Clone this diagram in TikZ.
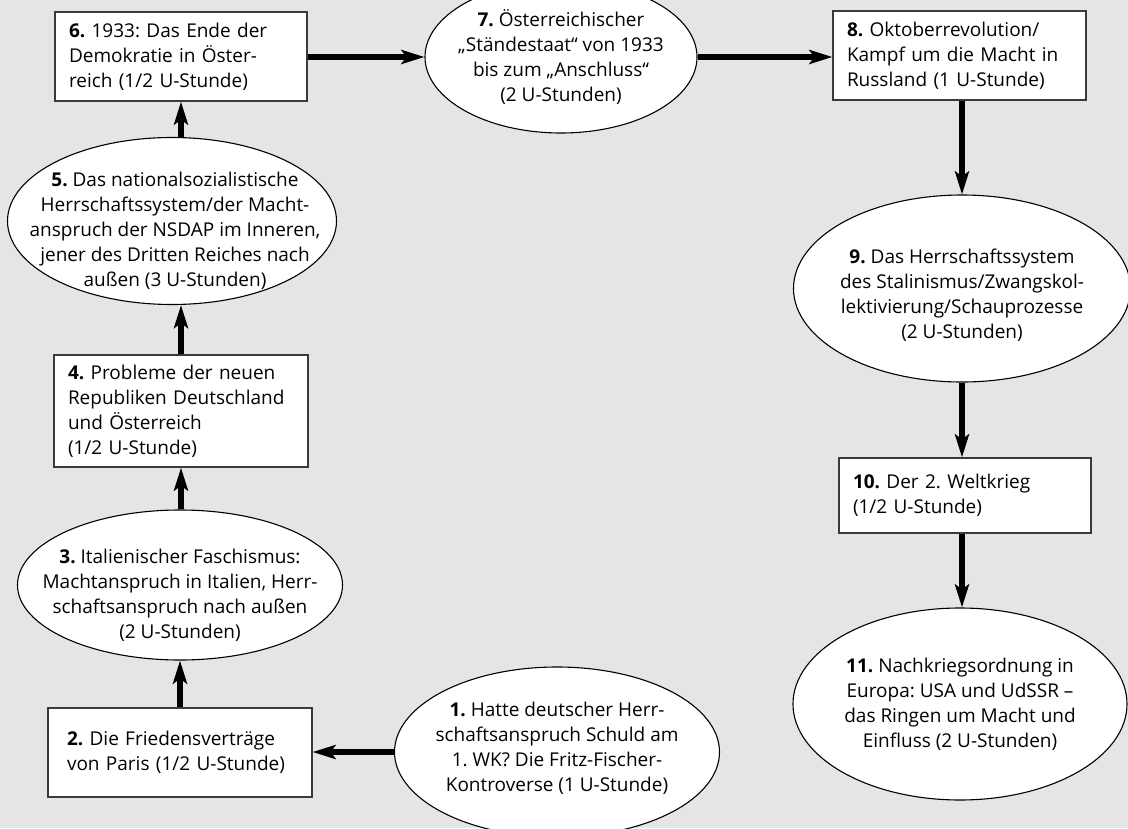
\documentclass[tikz,border=0pt]{standalone}
\usepackage{fontspec}
\setmainfont{Open Sans}
\usetikzlibrary{shapes.geometric,arrows.meta}
\definecolor{bgcol}{HTML}{E5E5E5}
\definecolor{boxline}{HTML}{3A3A3A}
\tikzset{
  stepbox/.style={draw=boxline, line width=1.2pt, fill=white, rectangle,
    align=left, inner xsep=14pt, inner ysep=0pt, font=\fontsize{19}{25}\selectfont},
  oval/.style={draw=black, line width=1.1pt, fill=white, ellipse, inner sep=0pt},
  ovaltext/.style={align=center, inner sep=0pt, font=\fontsize{19}{25}\selectfont},
  flow/.style={line width=5.5pt, -{Stealth[length=23pt,width=14pt,inset=5pt]}},
}
\begin{document}
\frenchspacing
\begin{tikzpicture}[x=1pt,y=-1pt]
\fill[bgcol] (0,0) rectangle (1128,828);
\useasboundingbox (0,0) rectangle (1128,828);

% boxes
\node[stepbox, text width=224pt, minimum height=89pt] (b6) at (181,56.5)
  {\textbf{6.} 1933: Das Ende der\\ Demokratie in Öster-\\ reich (1/2 U-Stunde)};
\node[stepbox, text width=225pt, minimum height=89pt] (b8) at (959.5,55.5)
  {\textbf{8.} Oktoberrevolution/\\ Kampf um die Macht in\\ Russland (1 U-Stunde)};
\node[stepbox, text width=226pt, minimum height=112pt] (b4) at (181,411)
  {\textbf{4.} Probleme der neuen\\ Republiken Deutschland\\ und Österreich\\ (1/2 U-Stunde)};
\node[stepbox, inner xsep=19pt, text width=226pt, minimum height=89pt] (b2) at (180,752.5)
  {\textbf{2.} Die Friedensverträge\\ von Paris (1/2 U-Stunde)};
\node[stepbox, text width=224pt, minimum height=75pt] (b10) at (965,495.5)
  {\textbf{10.} Der 2. Weltkrieg\\ (1/2 U-Stunde)\\[4pt]};

% ellipses
\node[oval, minimum width=272pt, minimum height=152pt] (e7) at (561,57) {};
\node[ovaltext] (t7) at (561,57)
  {\textbf{7.} Österreichischer\\ „Ständestaat“ von 1933\\ bis zum „Anschluss“\\ (2 U-Stunden)};
\node[oval, minimum width=329pt, minimum height=167pt] (e5) at (172,221) {};
\node[ovaltext] (t5) at (175,231)
  {\textbf{5.} Das nationalsozialistische\\ Herrschaftssystem/der Macht-\\ anspruch der NSDAP im Inneren,\\ jener des Dritten Reiches nach\\ außen (3 U-Stunden)};
\node[oval, minimum width=337pt, minimum height=187pt] (e9) at (962,288.5) {};
\node[ovaltext] (t9) at (962,295)
  {\textbf{9.} Das Herrschaftssystem\\ des Stalinismus/Zwangskol-\\ lektivierung/Schauprozesse\\ (2 U-Stunden)};
\node[oval, minimum width=325pt, minimum height=150pt] (e3) at (180,585) {};
\node[ovaltext] (t3) at (180,595)
  {\textbf{3.} Italienischer Faschismus:\\ Machtanspruch in Italien, Herr-\\ schaftsanspruch nach außen\\ (2 U-Stunden)};
\node[oval, minimum width=334pt, minimum height=192pt] (e11) at (960,704) {};
\node[ovaltext] (t11) at (960,704)
  {\textbf{11.} Nachkriegsordnung in\\ Europa: USA und UdSSR –\\ das Ringen um Macht und\\ Einfluss (2 U-Stunden)};
\node[oval, minimum width=325pt, minimum height=170pt] (e1) at (557,752) {};
\node[ovaltext] (t1) at (557,748)
  {\textbf{1.} Hatte deutscher Herr-\\ schaftsanspruch Schuld am\\ 1. WK? Die Fritz-Fischer-\\ Kontroverse (1 U-Stunde)};

% connectors
\draw[flow] (e1.west) -- (e1.west -| b2.east);
\draw[flow] (b2.north) -- (b2.north |- e3.south);
\draw[flow] (e3.north -| b4.south) -- (b4.south);
\draw[flow] (b4.north) -- (b4.north |- e5.south);
\draw[flow] (e5.north -| b6.south) -- (b6.south);
\draw[flow] (b6.east |- e7.west) -- (e7.west);
\draw[flow] (e7.east) -- (e7.east -| b8.west);
\draw[flow] (e9.north |- b8.south) -- (e9.north);
\draw[flow] (e9.south) -- (e9.south |- b10.north);
\draw[flow] (e9.south |- b10.south) -- (e9.south |- e11.north);
\end{tikzpicture}
\end{document}
